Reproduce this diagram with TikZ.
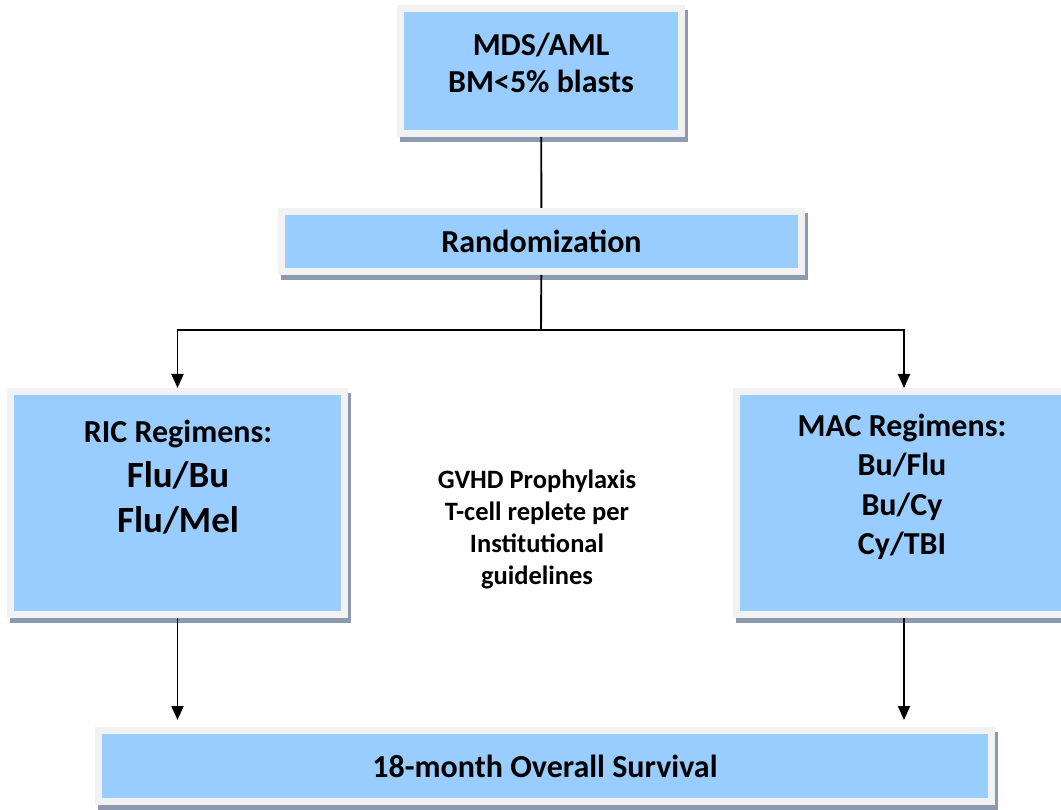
\documentclass[tikz,border=0pt]{standalone}
\usepackage{fontspec}
\setmainfont{Carlito}
\usetikzlibrary{arrows.meta, positioning, shadows}
\definecolor{BoxBlue}{RGB}{153,204,255}
\definecolor{FrameGrey}{RGB}{242,242,242}
\definecolor{ShadowGrey}{RGB}{141,153,174}

\begin{document}
\begin{tikzpicture}[
  x=1pt, y=-1pt,
  font=\bfseries\fontsize{32}{37}\selectfont,
  box/.style={rectangle, fill=BoxBlue, draw=FrameGrey, line width=7pt,
              outer sep=3.5pt, inner sep=0pt,
              drop shadow={shadow xshift=3pt, shadow yshift=-5pt,
                           fill=ShadowGrey, draw=ShadowGrey, opacity=1}},
  txt/.style={align=center, inner sep=0pt},
  link/.style={line width=1.9pt},
  arrow/.style={link, -{Triangle[length=14pt, width=12pt]}}
]
\clip (0,0) rectangle (1061,810);

% boxes
\node[box, minimum width=281pt, minimum height=125pt] (mds) at (541,71) {};
\node[box, minimum width=520pt, minimum height=60pt] (rand) at (541.5,241.5) {Randomization};
\node[box, minimum width=334pt, minimum height=223pt] (ric) at (177.5,503) {};
\node[box, minimum width=335pt, minimum height=223pt] (mac) at (904,503) {};
\node[box, minimum width=893pt, minimum height=71pt] (surv) at (545,766) {18-month Overall Survival};

% texts
\node[txt] (mdstxt) at (541,63) {MDS/AML\\BM<5\% blasts};
\node[txt, font=\bfseries\fontsize{37}{45}\selectfont] (rictxt) at (178,477)
  {{\fontsize{32}{45}\selectfont RIC Regimens:}\\Flu/Bu\\Flu/Mel};
\node[txt, font=\bfseries\fontsize{32}{39.5}\selectfont] (mactxt) at (902,487)
  {MAC Regimens:\\Bu/Flu\\Bu/Cy\\Cy/TBI};
\node[txt, font=\bfseries\fontsize{26.5}{32}\selectfont] (gvhd) at (537,529)
  {GVHD Prophylaxis\\T-cell replete per\\Institutional\\guidelines};

% connectors
\coordinate (split) at (541,330);
\draw[link] (mds) -- (rand);
\draw[link] (rand) -- (split);
\draw[arrow] (split) -| (ric.north);
\draw[arrow] (split) -| (mac.north);
\draw[arrow, shorten >=7pt] (ric.south) -- (ric.south |- surv.north);
\draw[arrow, shorten >=7pt] (mac.south) -- (mac.south |- surv.north);

\end{tikzpicture}
\end{document}
